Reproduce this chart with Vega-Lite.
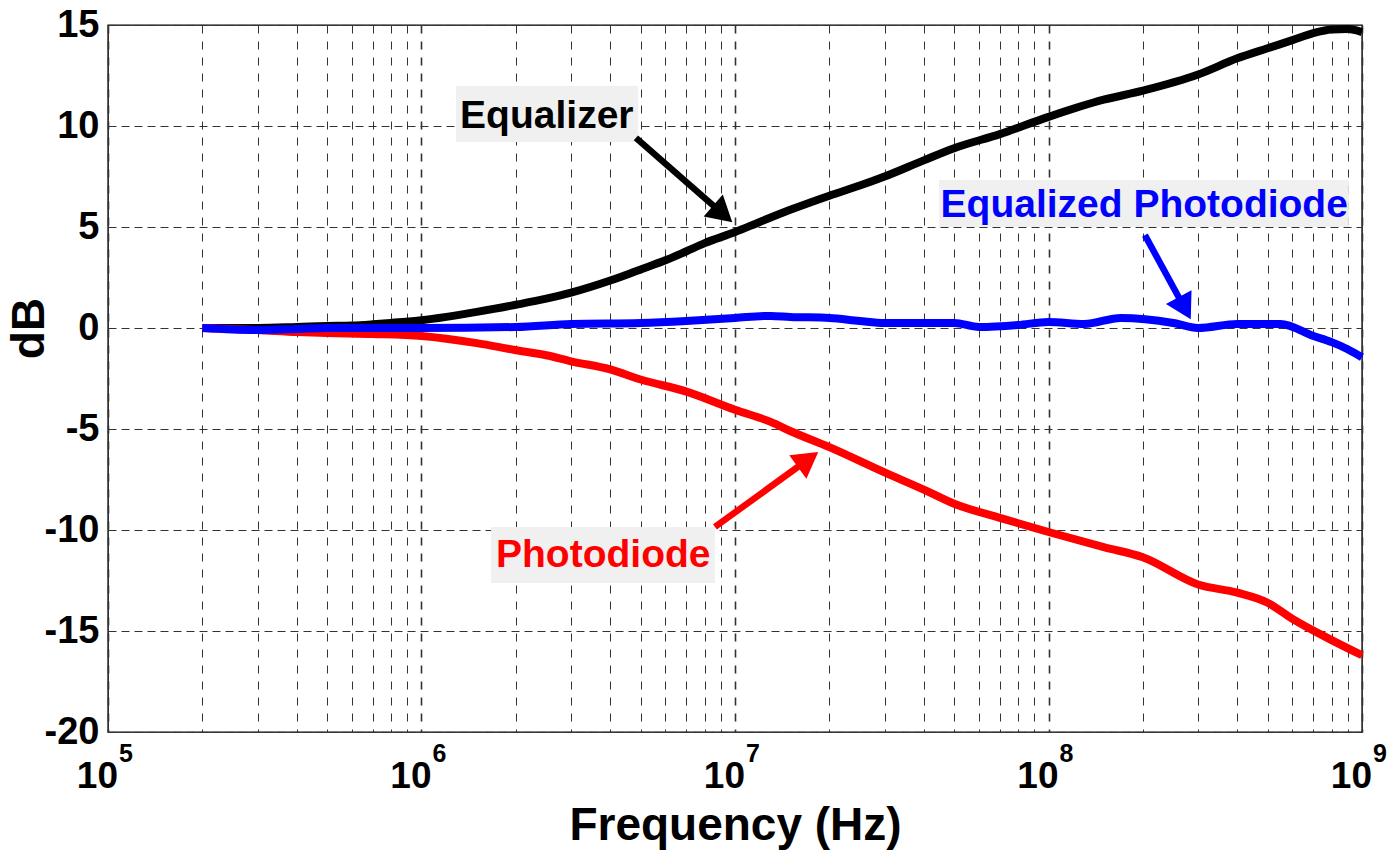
{
  "$schema": "https://vega.github.io/schema/vega-lite/v6.json",
  "width": 1254,
  "height": 707,
  "autosize": {"type": "none"},
  "padding": {"left": 108, "top": 25, "right": 35, "bottom": 119},
  "background": "white",
  "config": {
    "font": "Liberation Sans",
    "view": {"stroke": "#000000", "strokeWidth": 1.4},
    "axis": {"labelFont": "Liberation Sans", "titleFont": "Liberation Sans", "labelColor": "#000", "titleColor": "#000", "labelFontWeight": "bold", "titleFontWeight": "bold"}
  },
  "datasets": {
    "curves": [
      {"f": 2e5, "db": 0.0, "series": "Equalizer"},
      {"f": 3e5, "db": 0.0, "series": "Equalizer"},
      {"f": 4e5, "db": 0.05, "series": "Equalizer"},
      {"f": 5e5, "db": 0.1, "series": "Equalizer"},
      {"f": 6e5, "db": 0.12, "series": "Equalizer"},
      {"f": 7e5, "db": 0.18, "series": "Equalizer"},
      {"f": 8e5, "db": 0.25, "series": "Equalizer"},
      {"f": 1e6, "db": 0.38, "series": "Equalizer"},
      {"f": 1.2e6, "db": 0.55, "series": "Equalizer"},
      {"f": 1.5e6, "db": 0.8, "series": "Equalizer"},
      {"f": 2e6, "db": 1.15, "series": "Equalizer"},
      {"f": 2.5e6, "db": 1.45, "series": "Equalizer"},
      {"f": 3e6, "db": 1.75, "series": "Equalizer"},
      {"f": 4e6, "db": 2.35, "series": "Equalizer"},
      {"f": 5e6, "db": 2.9, "series": "Equalizer"},
      {"f": 6e6, "db": 3.35, "series": "Equalizer"},
      {"f": 7e6, "db": 3.8, "series": "Equalizer"},
      {"f": 8e6, "db": 4.2, "series": "Equalizer"},
      {"f": 1e7, "db": 4.75, "series": "Equalizer"},
      {"f": 1.2e7, "db": 5.25, "series": "Equalizer"},
      {"f": 1.5e7, "db": 5.85, "series": "Equalizer"},
      {"f": 2e7, "db": 6.55, "series": "Equalizer"},
      {"f": 2.5e7, "db": 7.05, "series": "Equalizer"},
      {"f": 3e7, "db": 7.5, "series": "Equalizer"},
      {"f": 4e7, "db": 8.3, "series": "Equalizer"},
      {"f": 5e7, "db": 8.9, "series": "Equalizer"},
      {"f": 7e7, "db": 9.6, "series": "Equalizer"},
      {"f": 1e8, "db": 10.45, "series": "Equalizer"},
      {"f": 1.5e8, "db": 11.3, "series": "Equalizer"},
      {"f": 2e8, "db": 11.75, "series": "Equalizer"},
      {"f": 3e8, "db": 12.55, "series": "Equalizer"},
      {"f": 4e8, "db": 13.35, "series": "Equalizer"},
      {"f": 5e8, "db": 13.85, "series": "Equalizer"},
      {"f": 6e8, "db": 14.25, "series": "Equalizer"},
      {"f": 7e8, "db": 14.6, "series": "Equalizer"},
      {"f": 8e8, "db": 14.78, "series": "Equalizer"},
      {"f": 9e8, "db": 14.8, "series": "Equalizer"},
      {"f": 1e9, "db": 14.65, "series": "Equalizer"},

      {"f": 2e5, "db": 0.0, "series": "Photodiode"},
      {"f": 3e5, "db": -0.1, "series": "Photodiode"},
      {"f": 4e5, "db": -0.2, "series": "Photodiode"},
      {"f": 5e5, "db": -0.25, "series": "Photodiode"},
      {"f": 7e5, "db": -0.3, "series": "Photodiode"},
      {"f": 1e6, "db": -0.4, "series": "Photodiode"},
      {"f": 1.5e6, "db": -0.75, "series": "Photodiode"},
      {"f": 2e6, "db": -1.1, "series": "Photodiode"},
      {"f": 2.5e6, "db": -1.35, "series": "Photodiode"},
      {"f": 3e6, "db": -1.65, "series": "Photodiode"},
      {"f": 4e6, "db": -2.05, "series": "Photodiode"},
      {"f": 5e6, "db": -2.55, "series": "Photodiode"},
      {"f": 7e6, "db": -3.15, "series": "Photodiode"},
      {"f": 1e7, "db": -4.05, "series": "Photodiode"},
      {"f": 1.3e7, "db": -4.65, "series": "Photodiode"},
      {"f": 1.5e7, "db": -5.1, "series": "Photodiode"},
      {"f": 2e7, "db": -5.9, "series": "Photodiode"},
      {"f": 3e7, "db": -7.15, "series": "Photodiode"},
      {"f": 4e7, "db": -8.0, "series": "Photodiode"},
      {"f": 5e7, "db": -8.7, "series": "Photodiode"},
      {"f": 7e7, "db": -9.4, "series": "Photodiode"},
      {"f": 1e8, "db": -10.1, "series": "Photodiode"},
      {"f": 1.5e8, "db": -10.85, "series": "Photodiode"},
      {"f": 2e8, "db": -11.35, "series": "Photodiode"},
      {"f": 3e8, "db": -12.7, "series": "Photodiode"},
      {"f": 4e8, "db": -13.1, "series": "Photodiode"},
      {"f": 5e8, "db": -13.6, "series": "Photodiode"},
      {"f": 6e8, "db": -14.4, "series": "Photodiode"},
      {"f": 8e8, "db": -15.45, "series": "Photodiode"},
      {"f": 1e9, "db": -16.2, "series": "Photodiode"},

      {"f": 2e5, "db": 0.0, "series": "Equalized Photodiode"},
      {"f": 3e5, "db": -0.1, "series": "Equalized Photodiode"},
      {"f": 4e5, "db": -0.05, "series": "Equalized Photodiode"},
      {"f": 5e5, "db": 0.0, "series": "Equalized Photodiode"},
      {"f": 7e5, "db": 0.0, "series": "Equalized Photodiode"},
      {"f": 1e6, "db": 0.0, "series": "Equalized Photodiode"},
      {"f": 2e6, "db": 0.05, "series": "Equalized Photodiode"},
      {"f": 3e6, "db": 0.2, "series": "Equalized Photodiode"},
      {"f": 5e6, "db": 0.25, "series": "Equalized Photodiode"},
      {"f": 7e6, "db": 0.35, "series": "Equalized Photodiode"},
      {"f": 1e7, "db": 0.5, "series": "Equalized Photodiode"},
      {"f": 1.3e7, "db": 0.6, "series": "Equalized Photodiode"},
      {"f": 1.5e7, "db": 0.55, "series": "Equalized Photodiode"},
      {"f": 2e7, "db": 0.5, "series": "Equalized Photodiode"},
      {"f": 2.5e7, "db": 0.35, "series": "Equalized Photodiode"},
      {"f": 3e7, "db": 0.25, "series": "Equalized Photodiode"},
      {"f": 5e7, "db": 0.25, "series": "Equalized Photodiode"},
      {"f": 6e7, "db": 0.05, "series": "Equalized Photodiode"},
      {"f": 8e7, "db": 0.15, "series": "Equalized Photodiode"},
      {"f": 1e8, "db": 0.3, "series": "Equalized Photodiode"},
      {"f": 1.3e8, "db": 0.2, "series": "Equalized Photodiode"},
      {"f": 1.7e8, "db": 0.5, "series": "Equalized Photodiode"},
      {"f": 2.5e8, "db": 0.25, "series": "Equalized Photodiode"},
      {"f": 3e8, "db": 0.0, "series": "Equalized Photodiode"},
      {"f": 4e8, "db": 0.2, "series": "Equalized Photodiode"},
      {"f": 5.5e8, "db": 0.2, "series": "Equalized Photodiode"},
      {"f": 7e8, "db": -0.4, "series": "Equalized Photodiode"},
      {"f": 8e8, "db": -0.7, "series": "Equalized Photodiode"},
      {"f": 9e8, "db": -1.05, "series": "Equalized Photodiode"},
      {"f": 1e9, "db": -1.45, "series": "Equalized Photodiode"}
    ],
    "notes": [
      {"name": "Equalizer", "f": 2.51e6, "db": 9.9, "bx1": 1.288e6, "bx2": 4.91e6, "by1": 11.98, "by2": 9.21, "fa": 4.83e6, "dba": 9.41, "fh": 9.14e6, "dbh": 5.65},
      {"name": "Equalized Photodiode", "f": 2.02e8, "db": 5.5, "bx1": 4.48e7, "bx2": 9.08e8, "by1": 7.33, "by2": 5.0, "fa": 2.03e8, "dba": 4.6, "fh": 2.72e8, "dbh": 0.98},
      {"name": "Photodiode", "f": 3.8e6, "db": -11.83, "bx1": 1.667e6, "bx2": 8.63e6, "by1": -9.85, "by2": -12.62, "fa": 8.63e6, "dba": -9.85, "fh": 1.71e7, "dbh": -6.51}
    ],
    "decades": [
      {"f": 1e5, "base": "10", "exp": "5"},
      {"f": 1e6, "base": "10", "exp": "6"},
      {"f": 1e7, "base": "10", "exp": "7"},
      {"f": 1e8, "base": "10", "exp": "8"},
      {"f": 1e9, "base": "10", "exp": "9"}
    ]
  },
  "layer": [
    {
      "data": {"name": "curves"},
      "transform": [{"filter": "datum.series === 'Equalizer'"}],
      "mark": {"type": "line", "strokeWidth": 8, "strokeJoin": "round", "interpolate": "monotone", "color": "#000000"},
      "encoding": {
        "x": {
          "field": "f", "type": "quantitative",
          "scale": {"type": "log", "domain": [100000, 1000000000], "nice": false},
          "axis": {
            "values": [100000, 200000, 300000, 400000, 500000, 600000, 700000, 800000, 900000,
                       1000000, 2000000, 3000000, 4000000, 5000000, 6000000, 7000000, 8000000, 9000000,
                       10000000, 20000000, 30000000, 40000000, 50000000, 60000000, 70000000, 80000000, 90000000,
                       100000000, 200000000, 300000000, 400000000, 500000000, 600000000, 700000000, 800000000, 900000000, 1000000000],
            "labels": false,
            "ticks": false,
            "domain": false,
            "grid": true,
            "gridColor": "#333333",
            "gridDash": [8, 8],
            "gridWidth": {"condition": {"test": "abs(log(datum.value)/LN10 - round(log(datum.value)/LN10)) < 0.001", "value": 1.6}, "value": 1},
            "title": "Frequency (Hz)",
            "titleFontSize": 46,
            "titleBaseline": "alphabetic",
            "titleY": 107,
            "titleX": 627,
            "titleAlign": "center"
          }
        },
        "y": {
          "field": "db", "type": "quantitative",
          "scale": {"domain": [-20, 15], "nice": false, "zero": false},
          "axis": {
            "values": [-20, -15, -10, -5, 0, 5, 10, 15],
            "labelExpr": "'' + datum.value",
            "labelFontSize": 38,
            "labelPadding": 9,
            "ticks": false,
            "domain": false,
            "grid": true,
            "gridColor": "#333333",
            "gridDash": [8, 5],
            "title": "dB",
            "titleFontSize": 46,
            "titleAngle": -90,
            "titleX": -79,
            "titleY": 303,
            "titleAlign": "center",
            "titleBaseline": "middle"
          }
        },
        "order": {"field": "f", "type": "quantitative"}
      }
    },
    {
      "data": {"name": "curves"},
      "transform": [{"filter": "datum.series === 'Photodiode'"}],
      "mark": {"type": "line", "strokeWidth": 8, "strokeJoin": "round", "interpolate": "monotone", "color": "#ff0000"},
      "encoding": {
        "x": {"field": "f", "type": "quantitative"},
        "y": {"field": "db", "type": "quantitative"},
        "order": {"field": "f", "type": "quantitative"}
      }
    },
    {
      "data": {"name": "curves"},
      "transform": [{"filter": "datum.series === 'Equalized Photodiode'"}],
      "mark": {"type": "line", "strokeWidth": 8, "strokeJoin": "round", "interpolate": "monotone", "color": "#0000ff"},
      "encoding": {
        "x": {"field": "f", "type": "quantitative"},
        "y": {"field": "db", "type": "quantitative"},
        "order": {"field": "f", "type": "quantitative"}
      }
    },
    {
      "data": {"name": "notes"},
      "mark": {"type": "rect", "fill": "#f0f0f0"},
      "encoding": {
        "x": {"field": "bx1", "type": "quantitative"},
        "x2": {"field": "bx2"},
        "y": {"field": "by1", "type": "quantitative"},
        "y2": {"field": "by2"}
      }
    },
    {
      "data": {"name": "notes"},
      "mark": {"type": "rule", "strokeWidth": 6.5},
      "encoding": {
        "x": {"field": "fa", "type": "quantitative"},
        "x2": {"field": "fh"},
        "y": {"field": "dba", "type": "quantitative"},
        "y2": {"field": "dbh"},
        "color": {"field": "name", "type": "nominal", "scale": {"domain": ["Equalizer", "Photodiode", "Equalized Photodiode"], "range": ["#000000", "#ff0000", "#0000ff"]}, "legend": null}
      }
    },
    {
      "data": {"name": "notes"},
      "transform": [{"filter": "datum.name === 'Equalizer'"}],
      "mark": {"type": "point", "shape": "triangle-up", "filled": true, "size": 850, "angle": 131, "opacity": 1, "color": "#000000"},
      "encoding": {
        "x": {"field": "fh", "type": "quantitative"},
        "y": {"field": "dbh", "type": "quantitative"}
      }
    },
    {
      "data": {"name": "notes"},
      "transform": [{"filter": "datum.name === 'Equalized Photodiode'"}],
      "mark": {"type": "point", "shape": "triangle-up", "filled": true, "size": 850, "angle": 151.5, "opacity": 1, "color": "#0000ff"},
      "encoding": {
        "x": {"field": "fh", "type": "quantitative"},
        "y": {"field": "dbh", "type": "quantitative"}
      }
    },
    {
      "data": {"name": "notes"},
      "transform": [{"filter": "datum.name === 'Photodiode'"}],
      "mark": {"type": "point", "shape": "triangle-up", "filled": true, "size": 850, "angle": 54, "opacity": 1, "color": "#ff0000"},
      "encoding": {
        "x": {"field": "fh", "type": "quantitative"},
        "y": {"field": "dbh", "type": "quantitative"}
      }
    },
    {
      "data": {"name": "notes"},
      "mark": {"type": "text", "fontSize": 39, "fontWeight": "bold", "font": "Liberation Sans", "align": "center", "baseline": "alphabetic"},
      "encoding": {
        "x": {"field": "f", "type": "quantitative"},
        "y": {"field": "db", "type": "quantitative"},
        "text": {"field": "name"},
        "color": {"field": "name", "type": "nominal", "scale": {"domain": ["Equalizer", "Photodiode", "Equalized Photodiode"], "range": ["#000000", "#ff0000", "#0000ff"]}, "legend": null}
      }
    },
    {
      "data": {"name": "decades"},
      "mark": {"type": "text", "fontSize": 37, "fontWeight": "bold", "font": "Liberation Sans", "align": "right", "baseline": "alphabetic", "dx": 10, "dy": 56, "color": "#000000"},
      "encoding": {
        "x": {"field": "f", "type": "quantitative"},
        "y": {"datum": -20, "type": "quantitative"},
        "text": {"field": "base"}
      }
    },
    {
      "data": {"name": "decades"},
      "mark": {"type": "text", "fontSize": 25, "fontWeight": "bold", "font": "Liberation Sans", "align": "left", "baseline": "alphabetic", "dx": 11, "dy": 30, "color": "#000000"},
      "encoding": {
        "x": {"field": "f", "type": "quantitative"},
        "y": {"datum": -20, "type": "quantitative"},
        "text": {"field": "exp"}
      }
    }
  ]
}
